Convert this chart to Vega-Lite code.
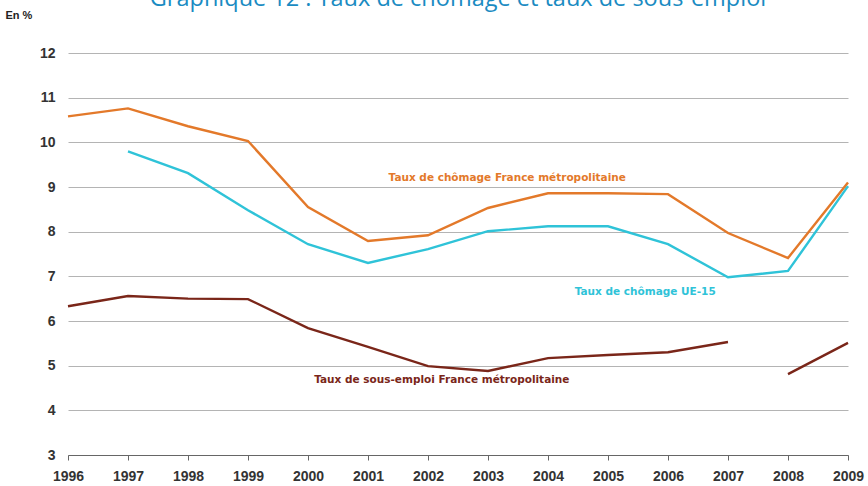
{
  "$schema": "https://vega.github.io/schema/vega-lite/v6.json",
  "width": 780,
  "height": 402,
  "autosize": {"type": "none"},
  "padding": {"left": 68, "top": 53, "right": 20, "bottom": 31},
  "background": "white",
  "title": {
    "text": "Graphique 12 : Taux de chômage et taux de sous-emploi",
    "font": "Open Sans",
    "fontSize": 23.5,
    "fontWeight": "normal",
    "color": "#1a8bc2",
    "anchor": "middle",
    "baseline": "alphabetic",
    "offset": 0,
    "dy": 20
  },
  "config": {
    "view": {"stroke": null},
    "font": "Liberation Sans"
  },
  "datasets": {
    "series": [
      {"year": 1996, "series": "chomage_fr", "value": 10.58},
      {"year": 1997, "series": "chomage_fr", "value": 10.76},
      {"year": 1998, "series": "chomage_fr", "value": 10.36},
      {"year": 1999, "series": "chomage_fr", "value": 10.03},
      {"year": 2000, "series": "chomage_fr", "value": 8.55},
      {"year": 2001, "series": "chomage_fr", "value": 7.79},
      {"year": 2002, "series": "chomage_fr", "value": 7.92},
      {"year": 2003, "series": "chomage_fr", "value": 8.53},
      {"year": 2004, "series": "chomage_fr", "value": 8.86},
      {"year": 2005, "series": "chomage_fr", "value": 8.86},
      {"year": 2006, "series": "chomage_fr", "value": 8.84},
      {"year": 2007, "series": "chomage_fr", "value": 7.97},
      {"year": 2008, "series": "chomage_fr", "value": 7.41},
      {"year": 2009, "series": "chomage_fr", "value": 9.1},
      {"year": 1997, "series": "chomage_ue15", "value": 9.8},
      {"year": 1998, "series": "chomage_ue15", "value": 9.31},
      {"year": 1999, "series": "chomage_ue15", "value": 8.48},
      {"year": 2000, "series": "chomage_ue15", "value": 7.72},
      {"year": 2001, "series": "chomage_ue15", "value": 7.3},
      {"year": 2002, "series": "chomage_ue15", "value": 7.61},
      {"year": 2003, "series": "chomage_ue15", "value": 8.01},
      {"year": 2004, "series": "chomage_ue15", "value": 8.12},
      {"year": 2005, "series": "chomage_ue15", "value": 8.12},
      {"year": 2006, "series": "chomage_ue15", "value": 7.72},
      {"year": 2007, "series": "chomage_ue15", "value": 6.98},
      {"year": 2008, "series": "chomage_ue15", "value": 7.12},
      {"year": 2009, "series": "chomage_ue15", "value": 9.02},
      {"year": 1996, "series": "sous_emploi", "value": 6.33},
      {"year": 1997, "series": "sous_emploi", "value": 6.56},
      {"year": 1998, "series": "sous_emploi", "value": 6.5},
      {"year": 1999, "series": "sous_emploi", "value": 6.49},
      {"year": 2000, "series": "sous_emploi", "value": 5.84},
      {"year": 2001, "series": "sous_emploi", "value": 5.42},
      {"year": 2002, "series": "sous_emploi", "value": 4.99},
      {"year": 2003, "series": "sous_emploi", "value": 4.88},
      {"year": 2004, "series": "sous_emploi", "value": 5.17},
      {"year": 2005, "series": "sous_emploi", "value": 5.24},
      {"year": 2006, "series": "sous_emploi", "value": 5.3},
      {"year": 2007, "series": "sous_emploi", "value": 5.53},
      {"year": 2007.5, "series": "sous_emploi", "value": null},
      {"year": 2008, "series": "sous_emploi", "value": 4.81},
      {"year": 2009, "series": "sous_emploi", "value": 5.51}
    ],
    "labels": [
      {"year": 2003.32, "value": 9.2, "series": "chomage_fr", "label": "Taux de chômage France métropolitaine"},
      {"year": 2005.62, "value": 6.65, "series": "chomage_ue15", "label": "Taux de chômage UE-15"},
      {"year": 2002.23, "value": 4.68, "series": "sous_emploi", "label": "Taux de sous-emploi France métropolitaine"}
    ]
  },
  "layer": [
    {
      "data": {"name": "series"},
      "mark": {"type": "line", "strokeWidth": 2.4, "invalid": "break-paths-show-domains"},
      "encoding": {
        "x": {
          "field": "year",
          "type": "quantitative",
          "scale": {"domain": [1996, 2009], "nice": false, "zero": false},
          "axis": {
            "values": [1996, 1997, 1998, 1999, 2000, 2001, 2002, 2003, 2004, 2005, 2006, 2007, 2008, 2009],
            "format": "d",
            "title": null,
            "grid": false,
            "domainColor": "#666666",
            "domainWidth": 1,
            "tickColor": "#666666",
            "tickSize": 5,
            "labelPadding": 9,
            "labelFont": "Liberation Sans",
            "labelFontSize": 14,
            "labelFontWeight": "bold",
            "labelColor": "#333333",
            "labelFlush": false
          }
        },
        "y": {
          "field": "value",
          "type": "quantitative",
          "scale": {"domain": [3, 12], "nice": false, "zero": false},
          "axis": {
            "values": [3, 4, 5, 6, 7, 8, 9, 10, 11, 12],
            "title": "En %",
            "titleAngle": 0,
            "titleAlign": "left",
            "titleBaseline": "middle",
            "titleX": -63,
            "titleY": -38,
            "titleFont": "Liberation Sans",
            "titleFontSize": 11,
            "titleFontWeight": "bold",
            "titleColor": "#222222",
            "domain": false,
            "ticks": false,
            "grid": true,
            "gridColor": "#b4b4b4",
            "gridWidth": 1,
            "labelPadding": 13,
            "labelFont": "Liberation Sans",
            "labelFontSize": 14,
            "labelFontWeight": "bold",
            "labelColor": "#333333"
          }
        },
        "color": {
          "field": "series",
          "type": "nominal",
          "scale": {
            "domain": ["chomage_fr", "chomage_ue15", "sous_emploi"],
            "range": ["#e3792a", "#2fc3d8", "#7a2619"]
          },
          "legend": null
        }
      }
    },
    {
      "data": {"name": "labels"},
      "mark": {"type": "text", "font": "DejaVu Sans", "fontSize": 10.5, "fontWeight": "bold", "align": "center", "baseline": "middle"},
      "encoding": {
        "x": {"field": "year", "type": "quantitative"},
        "y": {"field": "value", "type": "quantitative"},
        "text": {"field": "label"},
        "color": {
          "field": "series",
          "type": "nominal",
          "scale": {
            "domain": ["chomage_fr", "chomage_ue15", "sous_emploi"],
            "range": ["#e3792a", "#2fc3d8", "#7a2619"]
          },
          "legend": null
        }
      }
    }
  ]
}
